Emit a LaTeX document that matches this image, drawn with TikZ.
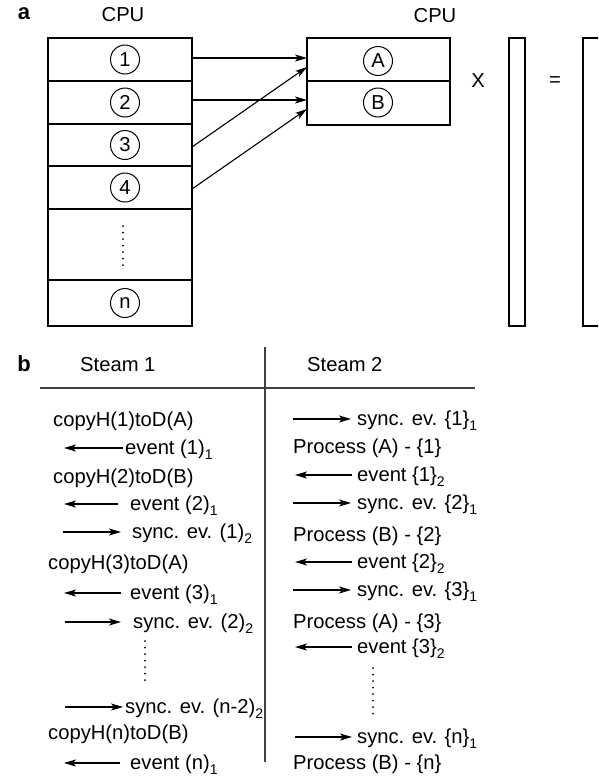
\documentclass[tikz,border=0pt]{standalone}
\usepackage{fontspec}
\setmainfont{Liberation Sans}
\usetikzlibrary{arrows.meta}
\newcommand{\sbs}[1]{\raisebox{-0.5ex}{\fontsize{14}{15}\selectfont #1}}
\begin{document}
\begin{tikzpicture}[x=1pt,y=-1pt,font=\fontsize{20.2}{22}\selectfont,
  box/.style={draw, line width=1.4pt, minimum width=144pt, inner sep=0pt, outer sep=0pt},
  num/.style={draw, circle, line width=1pt, minimum size=29pt, inner sep=0pt},
  txt/.style={anchor=base west, inner sep=0pt},
  lbl/.style={font=\fontsize{22}{24}\selectfont\bfseries},
  arr/.style={line width=1.1pt, -{Stealth[length=12pt,width=7pt,inset=3pt]}},
  dotline/.style={line width=2pt, line cap=round, dash pattern=on 0pt off 6.5pt},
  sepline/.style={line width=1.5pt, draw=black!75}]
\useasboundingbox (0,0) rectangle (598,777);
\clip (0,0) rectangle (598,777);
% ---------- part a ----------
\node[lbl] (la) at (24,14) {a};
\node (cpu1) at (123,15) {CPU};
\node (cpu2) at (435,16) {CPU};
\node[box, minimum height=43pt] (r1) at (120,59.5) {};
\node[box, minimum height=43pt] (r2) at (120,102.5) {};
\node[box, minimum height=42pt] (r3) at (120,145) {};
\node[box, minimum height=43pt] (r4) at (120,187.5) {};
\node[box, minimum height=71pt] (r5) at (120,244.5) {};
\node[box, minimum height=46pt] (r6) at (120,303) {};
\node[num] (c1) at (125,59.5) {1};
\node[num] (c2) at (125,102.5) {2};
\node[num] (c3) at (125,145) {3};
\node[num] (c4) at (125,187.5) {4};
\node[num] (c6) at (125,303) {n};
\draw[dotline] (123,226) -- (123,271);
\node[box, minimum width=143pt, minimum height=43pt] (rA) at (378.5,59.5) {};
\node[box, minimum width=143pt, minimum height=44pt] (rB) at (378.5,103) {};
\node[num] (cA) at (378,61) {A};
\node[num] (cB) at (378,102.5) {B};
\draw[arr] ([yshift=1.5pt]r1.east) -- ([yshift=1.5pt]rA.west);
\draw[arr] ([yshift=2.5pt]r2.east) -- ([yshift=3pt]rB.west);
\draw[arr] ([yshift=-2pt]r3.east) -- ([yshift=-7.5pt]rA.west);
\draw[arr] ([yshift=-1.5pt]r4.east) -- ([yshift=-6pt]rB.west);
\node (times) at (478,81) {X};
\node[draw, line width=1.4pt, minimum width=16pt, minimum height=288pt, inner sep=0pt] (vec) at (517,182) {};
\node (eq) at (555,82) {=};
\node[draw, line width=1.4pt, minimum width=37pt, minimum height=288pt, inner sep=0pt] (res) at (601.5,182) {};
% ---------- part b ----------
\node[lbl] (lb) at (24,364) {b};
\node[txt] (s1) at (80,371) {Steam 1};
\node[txt] (s2) at (307,371) {Steam 2};
\coordinate (hl) at (40,388);
\coordinate (hr) at (475,388);
\coordinate (vt) at (265,347);
\coordinate (vb) at (265,762);
\draw[sepline] (hl) -- (hr);
\draw[sepline] (vt) -- (vb);
% left column
\node[txt] (t1) at (53,426) {copyH(1)toD(A)};
\node[txt] (t2) at (125,454) {event (1)\sbs{1}};
\node[txt] (t3) at (53,483) {copyH(2)toD(B)};
\node[txt] (t4) at (130,510) {event (2)\sbs{1}};
\node[txt] (t5) at (132,538) {sync. ev. (1)\sbs{2}};
\node[txt] (t6) at (48,569) {copyH(3)toD(A)};
\node[txt] (t7) at (130,599) {event (3)\sbs{1}};
\node[txt] (t8) at (133,628) {sync. ev. (2)\sbs{2}};
\node[txt] (t9) at (125,713) {sync. ev. (n-2)\sbs{2}};
\node[txt] (t10) at (48,739) {copyH(n)toD(B)};
\node[txt] (t11) at (130,769) {event (n)\sbs{1}};
\draw[dotline] (145,641) -- (145,684);
\coordinate (a1s) at (123,448); \coordinate (a1e) at (64,448);
\coordinate (a2s) at (118,504); \coordinate (a2e) at (64,504);
\coordinate (a3s) at (63,532);  \coordinate (a3e) at (121,532);
\coordinate (a4s) at (121,593); \coordinate (a4e) at (64,593);
\coordinate (a5s) at (65,622);  \coordinate (a5e) at (121,622);
\coordinate (a6s) at (65,707);  \coordinate (a6e) at (123,707);
\coordinate (a7s) at (120,763); \coordinate (a7e) at (64,763);
\foreach \i in {1,...,7} \draw[arr] (a\i s) -- (a\i e);
% right column
\node[txt] (u1) at (357,425) {sync. ev. \{1\}\sbs{1}};
\node[txt] (u2) at (293,453) {Process (A) - \{1\}};
\node[txt] (u3) at (357,481) {event \{1\}\sbs{2}};
\node[txt] (u4) at (357,509) {sync. ev. \{2\}\sbs{1}};
\node[txt] (u5) at (293,541) {Process (B) - \{2\}};
\node[txt] (u6) at (357,568) {event \{2\}\sbs{2}};
\node[txt] (u7) at (357,596) {sync. ev. \{3\}\sbs{1}};
\node[txt] (u8) at (293,628) {Process (A) - \{3\}};
\node[txt] (u9) at (357,653) {event \{3\}\sbs{2}};
\node[txt] (u10) at (357,743) {sync. ev. \{n\}\sbs{1}};
\node[txt] (u11) at (293,769) {Process (B) - \{n\}};
\draw[dotline] (373,668) -- (373,714);
\coordinate (b1s) at (293,419); \coordinate (b1e) at (351,419);
\coordinate (b2s) at (352,475); \coordinate (b2e) at (295,475);
\coordinate (b3s) at (293,503); \coordinate (b3e) at (351,503);
\coordinate (b4s) at (352,562); \coordinate (b4e) at (295,562);
\coordinate (b5s) at (293,590); \coordinate (b5e) at (351,590);
\coordinate (b6s) at (352,647); \coordinate (b6e) at (295,647);
\coordinate (b7s) at (295,737); \coordinate (b7e) at (352,737);
\foreach \i in {1,...,7} \draw[arr] (b\i s) -- (b\i e);
\end{tikzpicture}
\end{document}
